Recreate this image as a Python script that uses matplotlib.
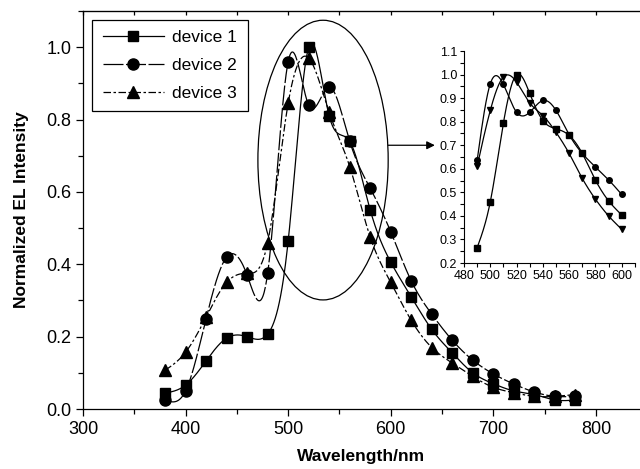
import numpy as np
import matplotlib
matplotlib.use("Agg")
import matplotlib.pyplot as plt
from matplotlib.patches import Ellipse
from matplotlib.ticker import MultipleLocator

plt.rcParams['font.family'] = ['Liberation Sans', 'DejaVu Sans']

# main spectra, 20 nm steps
wl = [380, 400, 420, 440, 460, 480, 500, 520, 540, 560, 580,
      600, 620, 640, 660, 680, 700, 720, 740, 760, 780]
dev1 = [0.044, 0.066, 0.133, 0.196, 0.200, 0.207, 0.464, 1.00, 0.81, 0.74, 0.55,
        0.406, 0.31, 0.22, 0.155, 0.10, 0.07, 0.05, 0.04, 0.025, 0.025]
dev2 = [0.025, 0.05, 0.25, 0.42, 0.37, 0.375, 0.96, 0.84, 0.89, 0.74, 0.61,
        0.49, 0.354, 0.262, 0.19, 0.135, 0.097, 0.069, 0.047, 0.035, 0.035]
dev3 = [0.107, 0.157, 0.254, 0.35, 0.375, 0.46, 0.845, 0.97, 0.82, 0.67, 0.475,
        0.35, 0.245, 0.17, 0.127, 0.09, 0.06, 0.045, 0.035, 0.035, 0.04]

# inset, 10 nm steps
wl_in = [490, 500, 510, 520, 530, 540, 550, 560, 570, 580, 590, 600]
in1 = [0.265, 0.46, 0.795, 1.0, 0.92, 0.805, 0.77, 0.742, 0.665, 0.552, 0.464, 0.404]
in2 = [0.636, 0.961, 0.958, 0.84, 0.84, 0.89, 0.848, 0.745, 0.665, 0.608, 0.553, 0.491]
in3 = [0.61, 0.848, 0.99, 0.968, 0.88, 0.826, 0.755, 0.665, 0.559, 0.471, 0.40, 0.343]

labels = ['device 1', 'device 2', 'device 3']


def spline(x, y, n=30):
    # natural cubic spline, only used to draw the connecting line smoothly
    x = np.asarray(x, float)
    y = np.asarray(y, float)
    N = len(x)
    h = np.diff(x)
    A = np.zeros((N, N))
    r = np.zeros(N)
    A[0, 0] = A[-1, -1] = 1
    for i in range(1, N - 1):
        A[i, i - 1] = h[i - 1]
        A[i, i] = 2 * (h[i - 1] + h[i])
        A[i, i + 1] = h[i]
        r[i] = 3 * ((y[i + 1] - y[i]) / h[i] - (y[i] - y[i - 1]) / h[i - 1])
    c = np.linalg.solve(A, r)
    b = np.diff(y) / h - h * (2 * c[:-1] + c[1:]) / 3
    d = np.diff(c) / (3 * h)
    xs = np.linspace(x[0], x[-1], n * (N - 1) + 1)
    k = np.clip(np.searchsorted(x, xs, side='right') - 1, 0, N - 2)
    t = xs - x[k]
    ys = y[k] + b[k] * t + c[k] * t ** 2 + d[k] * t ** 3
    return xs, ys


fig = plt.figure(figsize=(6.4, 4.69), dpi=100)
ax = fig.add_axes([0.1297, 0.1279, 0.8703, 0.8486])

styles = ['-', (0, (16, 2)), (0, (6, 2, 2, 2))]
markers = ['s', 'o', '^']
msizes = [7.5, 8, 8.5]
for ys, ls, mk, ms, lab in zip([dev1, dev2, dev3], styles, markers, msizes, labels):
    sx, sy = spline(wl, ys)
    ax.plot(sx, sy, color='black', lw=0.9, ls=ls)
    ax.plot(wl, ys, ls='none', marker=mk, ms=ms, color='black')
    ax.plot([], [], color='black', lw=0.9, ls=ls, marker=mk, ms=ms, label=lab)

ax.set_xlim(300, 843)
ax.set_ylim(0, 1.1)
ax.xaxis.set_major_locator(MultipleLocator(100))
ax.xaxis.set_minor_locator(MultipleLocator(50))
ax.yaxis.set_major_locator(MultipleLocator(0.2))
ax.yaxis.set_minor_locator(MultipleLocator(0.1))
ax.yaxis.set_major_formatter(matplotlib.ticker.FormatStrFormatter('%.1f'))
ax.tick_params(which='major', length=5, width=0.9, labelsize=13)
ax.tick_params(which='minor', length=3.5, width=0.9)
ax.spines['right'].set_visible(False)
for s in ['left', 'bottom', 'top']:
    ax.spines[s].set_linewidth(0.9)

top = ax.secondary_xaxis('top')
top.xaxis.set_major_locator(MultipleLocator(50))
top.tick_params(direction='in', length=3, width=0.9, labelbottom=False, labeltop=False)

ax.set_xlabel('Wavelength/nm', fontsize=12.5, fontweight='bold', labelpad=8)
ax.set_ylabel('Normalized EL Intensity', fontsize=12.5, fontweight='bold', labelpad=12)

leg = ax.legend(loc='upper left', bbox_to_anchor=(0.017, 0.978), borderaxespad=0,
                fontsize=12.5, handlelength=3.5, handletextpad=0.5, labelspacing=0.72,
                fancybox=False, framealpha=1, edgecolor='black', borderpad=0.6)
leg.get_frame().set_linewidth(0.9)

ax.add_patch(Ellipse((534, 0.688), 127, 0.773, fill=False, color='black', lw=0.9))
ax.annotate('', xy=(643, 0.729), xytext=(597.5, 0.729),
            arrowprops=dict(arrowstyle='-|>', color='black', lw=0.9,
                            mutation_scale=12, shrinkA=0, shrinkB=0))

# inset
ins = fig.add_axes([0.725, 0.4392, 0.267, 0.452])
for ys, mk in zip([in1, in2, in3], ['s', 'o', 'v']):
    sx, sy = spline(wl_in, ys)
    ins.plot(sx, sy, color='black', lw=0.9)
    ins.plot(wl_in, ys, ls='none', marker=mk, ms=4, color='black')
ins.set_xlim(480, 610)
ins.set_ylim(0.2, 1.1)
ins.xaxis.set_major_locator(MultipleLocator(20))
ins.xaxis.set_minor_locator(MultipleLocator(10))
ins.yaxis.set_major_locator(MultipleLocator(0.1))
ins.yaxis.set_minor_locator(MultipleLocator(0.05))
ins.yaxis.set_major_formatter(matplotlib.ticker.FormatStrFormatter('%.1f'))
ins.tick_params(which='both', length=3, width=0.8, labelsize=9, pad=2)
ins.spines['right'].set_visible(False)
ins.spines['top'].set_visible(False)
ins.patch.set_alpha(0)

fig.savefig('out.png', dpi=100)
